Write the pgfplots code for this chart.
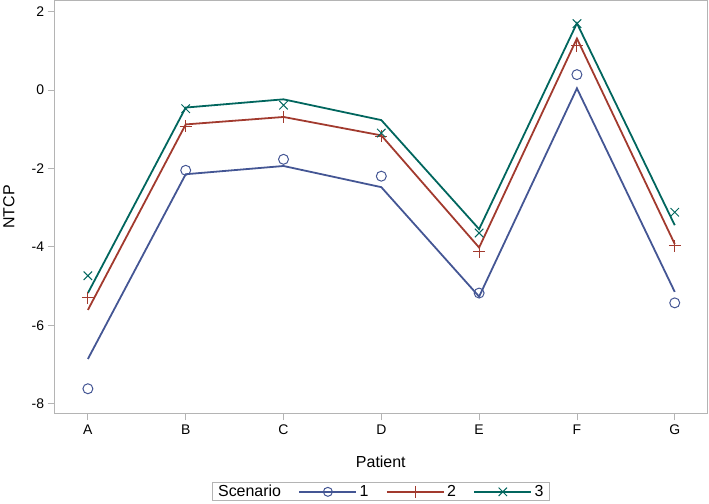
\documentclass[border=0pt]{standalone}
\usepackage{pgfplots}
\pgfplotsset{compat=1.18}
\usepackage{fontspec}
\setmainfont{Liberation Sans}
\definecolor{c1}{HTML}{445694}
\definecolor{c2}{HTML}{A23A2E}
\definecolor{c3}{HTML}{01665E}
\definecolor{frame}{HTML}{B4B4B4}
\begin{document}
\begin{tikzpicture}
\begin{axis}[
  scale only axis,
  width=654pt, height=414pt,
  xmin=-0.34, xmax=6.33, ymin=-8.25, ymax=2.28,
  xtick={0,1,2,3,4,5,6},
  xticklabels={A,B,C,D,E,F,G},
  ytick={-8,-6,-4,-2,0,2},
  axis line style={frame, line width=1pt},
  tick style={frame, line width=0.8pt},
  major tick length=7pt,
  tick align=outside,
  xtick pos=bottom, ytick pos=left,
  /pgf/number format/assume math mode=true,
  tick label style={font=\fontsize{14}{16}\selectfont},
  xticklabel style={yshift=-1pt},
  yticklabel style={xshift=0pt},
  xlabel={Patient}, ylabel={NTCP},
  label style={font=\fontsize{16}{18}\selectfont},
  xlabel style={at={(axis description cs:0.5,-0.116)}, anchor=center},
  ylabel style={at={(axis description cs:-0.07,0.5)}, anchor=center},
  legend columns=4,
  legend style={at={(axis description cs:0.5,-0.167)}, anchor=north,
    draw=frame, line width=0.8pt, inner xsep=3pt, inner ysep=0.5pt,
    font=\fontsize{16}{17}\selectfont,
    nodes={inner xsep=2.5pt},
    /tikz/every even column/.append style={column sep=15pt}},
  legend cell align=left,
  legend image code/.code={%
    \draw[#1, mark=none] (0pt,0pt) -- (57pt,0pt);
    \draw[#1, only marks] plot coordinates {(28.5pt,0pt)};},
]
% fitted lines
\addplot[c1, line width=1.8pt, forget plot] coordinates {(0,-6.86) (1,-2.15) (2,-1.94) (3,-2.48) (4,-5.27) (5,0.04) (6,-5.15)};
\addplot[c2, line width=1.8pt, forget plot] coordinates {(0,-5.61) (1,-0.88) (2,-0.69) (3,-1.16) (4,-4.02) (5,1.31) (6,-3.93)};
\addplot[c3, line width=1.8pt, forget plot] coordinates {(0,-5.18) (1,-0.45) (2,-0.24) (3,-0.77) (4,-3.55) (5,1.70) (6,-3.45)};
% observed markers
\addplot[c1, only marks, mark=o, mark size=5pt, line width=1pt, forget plot] coordinates {(0,-7.62) (1,-2.05) (2,-1.77) (3,-2.20) (4,-5.18) (5,0.39) (6,-5.43)};
\addplot[c2, only marks, mark=+, mark size=6pt, line width=1pt, forget plot] coordinates {(0,-5.30) (1,-0.93) (2,-0.70) (3,-1.18) (4,-4.13) (5,1.13) (6,-3.98)};
\addplot[c3, only marks, mark=x, mark size=6pt, line width=1pt, forget plot] coordinates {(0,-4.74) (1,-0.48) (2,-0.39) (3,-1.10) (4,-3.65) (5,1.69) (6,-3.12)};
\addlegendimage{empty legend}
\addlegendentry{Scenario\hspace{10pt}}
\addlegendimage{c1, line width=1.8pt, mark=o, mark size=4.5pt, mark options={line width=1pt, fill=white}}
\addlegendentry{1}
\addlegendimage{c2, line width=1.8pt, mark=+, mark size=6pt, mark options={line width=1pt}}
\addlegendentry{2}
\addlegendimage{c3, line width=1.8pt, mark=x, mark size=6pt, mark options={line width=1pt}}
\addlegendentry{3}
\end{axis}
\path (current axis.south west) ++(-53pt,-90pt);
\path (current axis.north east) ++(2pt,0pt);
\end{tikzpicture}
\end{document}
